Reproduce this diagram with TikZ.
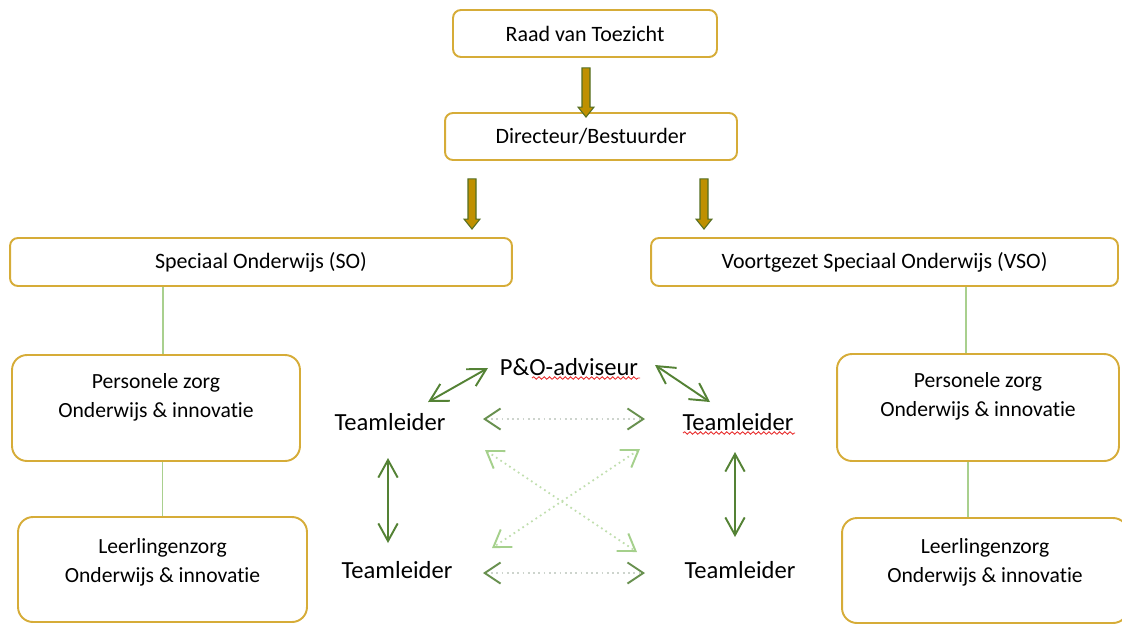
\documentclass[tikz,border=0pt]{standalone}
\usepackage{fontspec}
\setmainfont{Carlito}[Ligatures=NoCommon]
\usetikzlibrary{arrows.meta,calc,decorations.pathmorphing}
\definecolor{boxgold}{RGB}{214,172,56}
\definecolor{arrowgold}{RGB}{191,144,0}
\definecolor{arrowedge}{RGB}{84,110,34}
\definecolor{linkgreen}{RGB}{169,208,142}
\definecolor{darkgreen}{RGB}{84,130,53}
\definecolor{midgreen}{RGB}{105,145,80}
\definecolor{palegreen}{RGB}{165,208,140}
\definecolor{dotgray}{RGB}{205,212,205}
\definecolor{wavyred}{RGB}{232,45,45}

\begin{document}
\begin{tikzpicture}[x=0.02cm,y=-0.02cm,
    topbox/.style={draw=boxgold, line width=1.1pt, rounded corners=4.5pt,
        font=\fontsize{12.5}{15}\selectfont},
    sidebox/.style={draw=boxgold, line width=1.1pt, rounded corners=8.5pt},
    boxtext/.style={align=center, font=\fontsize{12.3}{16.5}\selectfont},
    lead/.style={font=\fontsize{14}{16}\selectfont},
    linkline/.style={linkgreen, line width=0.9pt},
    goldarrow/.style={fill=arrowgold, draw=arrowedge, line width=0.6pt},
    tlarrow/.style={darkgreen, line width=1.1pt,
        {Straight Barb[length=10pt,width=11pt]}-{Straight Barb[length=10pt,width=11pt]}},
    dotarrow/.style={dotgray, dotted, line width=1pt,
        {Straight Barb[length=9pt,width=12pt,color=midgreen,line width=1.1pt]}-{Straight Barb[length=9pt,width=12pt,color=midgreen,line width=1.1pt]}},
    crossarrow/.style={palegreen!70!white, dotted, line width=1pt,
        {Straight Barb[length=9pt,width=12pt,color=palegreen,line width=1.1pt]}-{Straight Barb[length=9pt,width=12pt,color=palegreen,line width=1.1pt]}},
    wavy/.style={wavyred, line width=0.5pt, decorate,
        decoration={snake, amplitude=0.7pt, segment length=3pt}}]
    \clip (0,0) rectangle (1122,623);
    \useasboundingbox (0,0) rectangle (1122,623);
    % top of the tree
    \node[topbox, minimum width=5.28cm, minimum height=0.94cm] (rvt) at (585,33.5) {Raad van Toezicht};
    \node[topbox, minimum width=5.84cm, minimum height=0.94cm] (dir) at (591,136.5) {Directeur/Bestuurder};
    \node[topbox, minimum width=10.04cm, minimum height=0.96cm] (so) at (261,262) {Speciaal Onderwijs (SO)};
    \node[topbox, minimum width=9.34cm, minimum height=0.96cm] (vso) at (884.5,262) {Voortgezet Speciaal Onderwijs (VSO)};
    % side boxes
    \node[sidebox, minimum width=5.76cm, minimum height=2.12cm] (pzl) at (156,408) {};
    \node[sidebox, minimum width=5.78cm, minimum height=2.10cm] (lzl) at (162.5,569.5) {};
    \node[sidebox, minimum width=5.64cm, minimum height=2.14cm] (pzr) at (978,407.5) {};
    \node[sidebox, minimum width=5.72cm, minimum height=2.10cm] (lzr) at (985,570.5) {};
    \node[boxtext] (pzltext) at ($(pzl)+(0,-11)$) {Personele zorg\\Onderwijs \& innovatie};
    \node[boxtext] (lzltext) at ($(lzl)+(0,-7)$) {Leerlingenzorg\\Onderwijs \& innovatie};
    \node[boxtext] (pzrtext) at ($(pzr)+(0,-11)$) {Personele zorg\\Onderwijs \& innovatie};
    \node[boxtext] (lzrtext) at ($(lzr)+(0,-8)$) {Leerlingenzorg\\Onderwijs \& innovatie};
    % gold arrows
    \coordinate (a1) at ($(rvt.south)+(1,10)$);
    \coordinate (a2) at ($(a1 |- dir.north)+(0,5)$);
    \coordinate (a3) at ($(dir.south)+(-119,18)$);
    \coordinate (a4) at ($(a3 |- so.north)+(0,-8)$);
    \coordinate (a5) at ($(dir.south)+(113,18)$);
    \coordinate (a6) at ($(a5 |- vso.north)+(0,-8)$);
    \foreach \s/\e in {a1/a2,a3/a4,a5/a6}
    \draw[goldarrow] ($(\s)+(-4,0)$) -- ($(\e)+(-4,-10)$) -- ($(\e)+(-8,-10)$) -- (\e)
        -- ($(\e)+(8,-10)$) -- ($(\e)+(4,-10)$) -- ($(\s)+(4,0)$) -- cycle;
    % green links
    \coordinate (l1) at ($(pzl.north)+(7,0)$);
    \coordinate (l2) at ($(pzr.north)+(-12,0)$);
    \coordinate (l3) at ($(lzr.north)+(-17,0)$);
    \draw[linkline] (l1 |- so.south) -- (l1);
    \draw[linkline] (lzl.north |- pzl.south) -- (lzl.north);
    \draw[linkline] (l2 |- vso.south) -- (l2);
    \draw[linkline] (l3 |- pzr.south) -- (l3);
    % team leaders
    \node[lead] (po) at (569,367) {P\&O-adviseur};
    \node[lead] (tl) at (390,422) {Teamleider};
    \node[lead] (tr) at (738,422) {Teamleider};
    \node[lead] (bl) at (397,570) {Teamleider};
    \node[lead] (br) at (740,570) {Teamleider};
    \draw[wavy] ($(po)+(-37,11)$) -- ($(po)+(71,11)$);
    \draw[wavy] ($(tr)+(-55,11)$) -- ($(tr)+(57,11)$);
    \draw[tlarrow] ($(tl)+(38,-20)$) -- ($(po)+(-81,1)$);
    \draw[tlarrow] ($(po)+(86,-2)$) -- ($(tr)+(-28,-20)$);
    \draw[tlarrow] ($(tl)+(-2,36)$) -- ($(bl)+(-9,-27)$);
    \draw[tlarrow] ($(tr)+(-3,30)$) -- ($(br)+(-5,-33)$);
    \draw[dotarrow] ($(tl)+(93,-3)$) -- ($(tr)+(-93,-3)$);
    \draw[dotarrow] ($(bl)+(86,3)$) -- ($(br)+(-95,3)$);
    \draw[crossarrow] ($(tl)+(95,28)$) -- ($(br)+(-103,-18)$);
    \draw[crossarrow] ($(tr)+(-98,27)$) -- ($(bl)+(95,-22)$);
\end{tikzpicture}
\end{document}
